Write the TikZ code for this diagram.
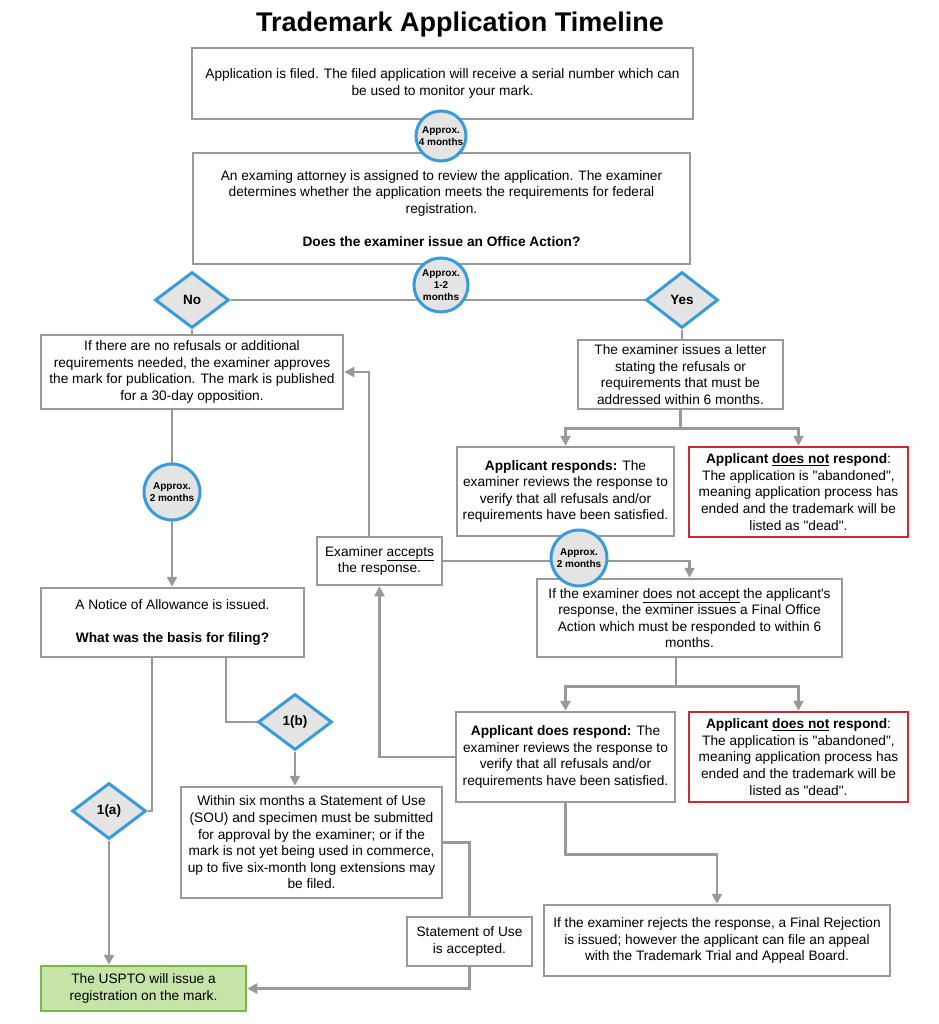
\documentclass[tikz,border=0pt]{standalone}
\usepackage{fontspec}
\setmainfont{Liberation Sans}[Ligatures=TeXOff]
\usetikzlibrary{arrows.meta,shapes.geometric,backgrounds}
\definecolor{lgray}{HTML}{999999}
\definecolor{cblue}{HTML}{3A9BDC}
\definecolor{cfill}{HTML}{E4E4E4}
\definecolor{cred}{HTML}{CC2936}
\definecolor{gfill}{HTML}{C6E4A8}
\definecolor{gdraw}{HTML}{7AB648}
\begin{document}
\begin{tikzpicture}[x=1pt,y=-1pt,
  box/.style={draw=lgray, line width=2.5pt, fill=white, align=center, inner sep=0pt,
    font=\fontsize{13.7pt}{16.6pt}\selectfont},
  redbox/.style={box, draw=cred},
  greenbox/.style={box, draw=gdraw, fill=gfill},
  timer/.style={circle, draw=cblue, line width=3pt, fill=cfill, inner sep=0pt, align=center,
    font=\bfseries\fontsize{10pt}{12.3pt}\selectfont},
  choice/.style={diamond, draw=cblue, line width=3pt, fill=cfill, inner sep=0pt,
    minimum width=74pt, minimum height=56pt, font=\bfseries\fontsize{13.5pt}{15pt}\selectfont},
  conn/.style={draw=lgray, line width=2.5pt},
  arr/.style={conn, -{Triangle[length=10pt,width=10pt]}}
]
\useasboundingbox (0,0) rectangle (938,1024);

\node[anchor=base, font=\bfseries\fontsize{27pt}{30pt}\selectfont] (title) at (460,32) {Trademark Application Timeline};

\node[box, minimum width=501pt, minimum height=71pt] (filed) at (442.5,83.5)
  {Application is filed. The filed application will receive a serial number which can\\ be used to monitor your mark.};
\node[box, minimum width=497pt, minimum height=111pt] (exam) at (441.5,208.5)
  {An examing attorney is assigned to review the application. The examiner\\ determines whether the application meets the requirements for federal\\ registration.\\[16.6pt] \textbf{Does the examiner issue an Office Action?}};
\node[box, minimum width=302pt, minimum height=74pt] (approve) at (192,372)
  {If there are no refusals or additional\\ requirements needed, the examiner approves\\ the mark for publication. The mark is published\\ for a 30-day opposition.};
\node[box, minimum width=205pt, minimum height=69pt] (letter) at (680.5,374.5)
  {The examiner issues a letter\\ stating the refusals or\\ requirements that must be\\ addressed within 6 months.};
\node[box, minimum width=217pt, minimum height=89pt] (resp1) at (565.5,491.5)
  {\textbf{Applicant responds:} The\\ examiner reviews the response to\\ verify that all refusals and/or\\ requirements have been satisfied.};
\node[redbox, minimum width=219pt, minimum height=90pt] (noresp1) at (798.5,492)
  {\textbf{Applicant \underline{does not} respond}:\\ The application is "abandoned",\\ meaning application process has\\ ended and the trademark will be\\ listed as "dead".};
\node[box, minimum width=125pt, minimum height=48pt] (accepts) at (379.5,561)
  {Examiner \underline{accepts}\\ the response.};
\node[box, minimum width=263pt, minimum height=69pt] (notice) at (172.5,622.5)
  {A Notice of Allowance is issued.\\[16.6pt] \textbf{What was the basis for filing?}};
\node[box, minimum width=305pt, minimum height=78pt] (final) at (689.5,618)
  {If the examiner \underline{does not accept} the applicant's\\ response, the exminer issues a Final Office\\ Action which must be responded to within 6\\ months.};
\node[box, minimum width=219pt, minimum height=90pt] (resp2) at (565.5,757)
  {\textbf{Applicant does respond:} The\\ examiner reviews the response to\\ verify that all refusals and/or\\ requirements have been satisfied.};
\node[redbox, minimum width=219pt, minimum height=90pt] (noresp2) at (798.5,757)
  {\textbf{Applicant \underline{does not} respond}:\\ The application is "abandoned",\\ meaning application process has\\ ended and the trademark will be\\ listed as "dead".};
\node[box, minimum width=261pt, minimum height=111pt] (sou) at (311.5,842.5)
  {Within six months a Statement of Use\\ (SOU) and specimen must be submitted\\ for approval by the examiner; or if the\\ mark is not yet being used in commerce,\\ up to five six-month long extensions may\\ be filed.};
\node[box, minimum width=125pt, minimum height=49pt] (stmt) at (469.5,941.5)
  {Statement of Use\\ is accepted.};
\node[box, minimum width=346pt, minimum height=71pt] (reject) at (717,940.5)
  {If the examiner rejects the response, a Final Rejection\\ is issued; however the applicant can file an appeal\\ with the Trademark Trial and Appeal Board.};
\node[greenbox, minimum width=205pt, minimum height=45pt] (reg) at (143.5,988.5)
  {The USPTO will issue a\\ registration on the mark.};

\node[timer, minimum size=50pt] (t1) at (441,136) {Approx.\\ 4 months};
\node[timer, minimum size=54pt] (t2) at (441,285) {Approx.\\ 1-2\\ months};
\node[timer, minimum size=56pt] (t3) at (172,492) {Approx.\\ 2 months};
\node[timer, minimum size=56pt] (t4) at (579,558) {Approx.\\ 2 months};

\node[choice] (no) at (192,300) {No};
\node[choice, minimum width=72pt] (yes) at (682,300) {Yes};
\node[choice] (onea) at (109,811) {1(a)};
\node[choice] (oneb) at (295,722) {1(b)};

\begin{scope}[on background layer]
  \draw[conn] (no.east) -- (no.east -| yes.west);
  \draw[conn] (no.south) -- (approve.north);
  \draw[conn] (yes.south) -- (yes.south |- letter.north);
  \draw[conn] (letter.south) -- ++(0,18) coordinate (f1);
  \draw[arr] (f1) -| (resp1.north);
  \draw[arr] (f1) -| (noresp1.north);
  \draw[arr] (t3 |- approve.south) -- (t3 |- notice.north);
  \draw[arr] ([xshift=-10.5pt]accepts.north) |- (approve.east);
  \draw[arr] (accepts.east) -| (final.north);
  \draw[conn] ([xshift=-13.5pt]final.south) -- ++(0,28) coordinate (f2);
  \draw[arr] (f2) -| (resp2.north);
  \draw[arr] (f2) -| (noresp2.north);
  \draw[arr] (resp2.west) -| (accepts.south);
  \draw[arr] (resp2.south) -- ++(0,51) -| (reject.north);
  \draw[conn] ([xshift=-20.5pt]notice.south) |- (onea.east);
  \draw[conn] ([xshift=53.5pt]notice.south) |- (oneb.west);
  \draw[arr] (onea.south) -- (onea.south |- reg.north);
  \draw[arr] (oneb.south) -- (oneb.south |- sou.north);
  \draw[conn] (sou.east) -| (stmt.north);
  \draw[arr] (stmt.south) |- (reg.east);
\end{scope}
\end{tikzpicture}
\end{document}
